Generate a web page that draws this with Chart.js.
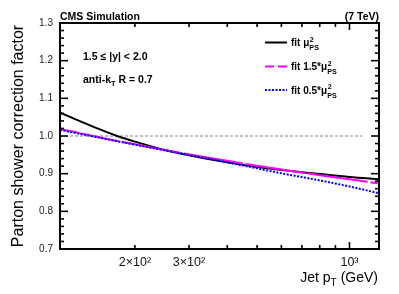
<!DOCTYPE html>
<html><head><meta charset="utf-8">
<script src="https://cdn.jsdelivr.net/npm/chart.js@4/dist/chart.umd.min.js"></script>
<style>html,body{margin:0;padding:0;background:#fff;}canvas{display:block;}</style>
</head><body>
<canvas id="c" width="399" height="294" style="width:399px;height:294px"></canvas>
<script>
// ---- data ----
const pT          = [114, 130, 150, 175, 200, 250, 300, 400, 500, 600, 700, 800, 1000, 1248];
const fitNominal  = [1.062, 1.042, 1.021, 1.000, 0.985, 0.963, 0.949, 0.930, 0.918, 0.910, 0.904, 0.899, 0.891, 0.885];
const fitUp15     = [1.018, 1.009, 0.998, 0.987, 0.978, 0.963, 0.951, 0.934, 0.921, 0.911, 0.903, 0.896, 0.885, 0.874];
const fitDown05   = [1.016, 1.007, 0.997, 0.986, 0.977, 0.962, 0.950, 0.930, 0.914, 0.901, 0.891, 0.882, 0.866, 0.848];
const refX        = [114, 1100];
const refY        = [1.0, 1.0];
const xTickValues = [200, 300, 400, 500, 600, 700, 800, 900, 1000];
const xTickLabels = {200: '2×10²', 300: '3×10²', 1000: '10³'};
const yMinorTicks = [0.70,0.72,0.74,0.76,0.78,0.80,0.82,0.84,0.86,0.88,0.90,0.92,0.94,0.96,0.98,1.00,1.02,1.04,1.06,1.08,1.10,1.12,1.14,1.16,1.18,1.20,1.22,1.24,1.26,1.28,1.30];
const yMajorTicks = [0.7, 0.8, 0.9, 1.0, 1.1, 1.2, 1.3];

const FONT = '"Liberation Sans", Arial, Helvetica, sans-serif';
const pts = (xs, ys) => xs.map((v, i) => ({x: v, y: ys[i]}));

const series = [
  {label: 'fit μ²PS', data: pts(pT, fitNominal), color: '#000000', dash: [], legendDash: [], sup: '2', pre: 'fit '},
  {label: 'fit 1.5*μ²PS', data: pts(pT, fitUp15), color: '#ff00ff', dash: [60, 3], legendDash: [9, 4], pre: 'fit 1.5*'},
  {label: 'fit 0.5*μ²PS', data: pts(pT, fitDown05), color: '#0000ff', dash: [2, 1.5], legendDash: [2, 1.5], pre: 'fit 0.5*'}
];

function richWidth(ctx, parts, size, bold) {
  const f = s => (bold ? 'bold ' : '') + s + 'px ' + FONT;
  let w = 0;
  parts.forEach(p => {
    if (p.k === 'n') { ctx.font = f(size); w += ctx.measureText(p.t).width; }
    else if (p.k === 'sub') { ctx.font = f(size * 0.72); w += ctx.measureText(p.t).width; }
    else { ctx.font = f(size * 0.72); w += Math.max(ctx.measureText(p.sup).width, ctx.measureText(p.sub).width); }
  });
  return w;
}
function rich(ctx, parts, x, y, size, bold, align) {
  const f = s => (bold ? 'bold ' : '') + s + 'px ' + FONT;
  let cx = align === 'right' ? x - richWidth(ctx, parts, size, bold) : x;
  ctx.textAlign = 'left'; ctx.textBaseline = 'alphabetic';
  parts.forEach(p => {
    if (p.k === 'n') { ctx.font = f(size); ctx.fillText(p.t, cx, y); cx += ctx.measureText(p.t).width; }
    else if (p.k === 'sub') { ctx.font = f(size * 0.72); ctx.fillText(p.t, cx, y + size * 0.3); cx += ctx.measureText(p.t).width; }
    else {
      ctx.font = f(size * 0.72);
      ctx.fillText(p.sup, cx + 0.5, y - size * 0.45);
      ctx.fillText(p.sub, cx, y + size * 0.4);
      cx += Math.max(ctx.measureText(p.sup).width, ctx.measureText(p.sub).width);
    }
  });
}

const decor = {
  id: 'decor',
  afterDraw(chart) {
    const {ctx, chartArea: a, scales: {x, y}} = chart;
    ctx.save();
    ctx.strokeStyle = '#000';
    const line = (x1, y1, x2, y2) => { ctx.beginPath(); ctx.moveTo(x1, y1); ctx.lineTo(x2, y2); ctx.stroke(); };
    // ticks
    ctx.lineWidth = 1.6;
    yMinorTicks.forEach(v => {
      const py = y.getPixelForValue(v);
      const major = yMajorTicks.some(m => Math.abs(m - v) < 1e-6);
      const L = major ? 8 : 4;
      line(a.left, py, a.left + L, py);
      line(a.right, py, a.right - L, py);
    });
    xTickValues.forEach(v => {
      const px = x.getPixelForValue(v);
      const L = v === 1000 ? 7 : 4;
      line(px, a.bottom, px, a.bottom - L);
      line(px, a.top, px, a.top + L);
    });
    // frame
    ctx.lineWidth = 2;
    ctx.strokeRect(a.left, a.top, a.right - a.left, a.bottom - a.top);

    ctx.fillStyle = '#000';
    // header texts
    rich(ctx, [{k: 'n', t: 'CMS Simulation'}], a.left, 19.5, 10.5, true, 'left');
    rich(ctx, [{k: 'n', t: '(7 TeV)'}], a.right, 19.5, 10.5, true, 'right');
    // annotations
    rich(ctx, [{k: 'n', t: '1.5 ≤ |y| < 2.0'}], 83, 60, 10.5, true, 'left');
    rich(ctx, [{k: 'n', t: 'anti-k'}, {k: 'sub', t: 'T'}, {k: 'n', t: ' R = 0.7'}], 83, 82.5, 10.5, true, 'left');
    // legend
    const rows = [42.5, 66.5, 90];
    series.forEach((s, i) => {
      const ry = rows[i];
      ctx.save();
      ctx.strokeStyle = s.color; ctx.lineWidth = 2; ctx.setLineDash(s.legendDash);
      line(265, ry, 287, ry);
      ctx.restore();
      rich(ctx, [{k: 'n', t: s.pre + 'μ'}, {k: 'supsub', sup: '2', sub: 'PS'}], 291, ry + 3.5, 10, true, 'left');
    });
    // x-axis title
    rich(ctx, [{k: 'n', t: 'Jet p'}, {k: 'sub', t: 'T'}, {k: 'n', t: ' (GeV)'}], a.right - 1, 281.5, 14, false, 'right');
    ctx.restore();
  }
};

const datasets = series.map((s, i) => ({
  label: s.label, data: s.data, borderColor: s.color, backgroundColor: s.color,
  borderWidth: 2, borderDash: s.dash, pointRadius: 0, fill: false,
  cubicInterpolationMode: 'monotone', order: 3 - i
}));
datasets.push({
  label: 'ref', data: pts(refX, refY), borderColor: '#808080', borderWidth: 1,
  borderDash: [3, 2], pointRadius: 0, fill: false, order: 10
});

new Chart(document.getElementById('c'), {
  type: 'line',
  data: {datasets},
  options: {
    responsive: false, animation: false, devicePixelRatio: 1,
    layout: {padding: {left: 0, right: 20, top: 23, bottom: 0}},
    plugins: {legend: {display: false}, tooltip: {enabled: false}},
    scales: {
      x: {
        type: 'logarithmic', min: 114, max: 1248,
        grid: {display: false, drawTicks: false}, border: {display: false},
        afterBuildTicks: sc => { sc.ticks = xTickValues.map(v => ({value: v})); },
        afterFit: sc => { sc.height = 45; },
        ticks: {
          autoSkip: false, maxRotation: 0, padding: 6, color: '#111',
          font: {family: FONT, size: 12.5},
          callback: v => xTickLabels[v] || ''
        }
      },
      y: {
        type: 'linear', min: 0.7, max: 1.3,
        grid: {display: false, drawTicks: false}, border: {display: false},
        afterBuildTicks: sc => { sc.ticks = yMajorTicks.map(v => ({value: v})); },
        afterFit: sc => { sc.width = 60; },
        ticks: {padding: 7, color: '#222', font: {family: FONT, size: 10}, callback: v => Number(v).toFixed(1)},
        title: {display: true, text: 'Parton shower correction factor', color: '#000',
                font: {family: FONT, size: 16}, padding: {top: 9, bottom: 0}}
      }
    }
  },
  plugins: [decor]
});
</script>
</body></html>
